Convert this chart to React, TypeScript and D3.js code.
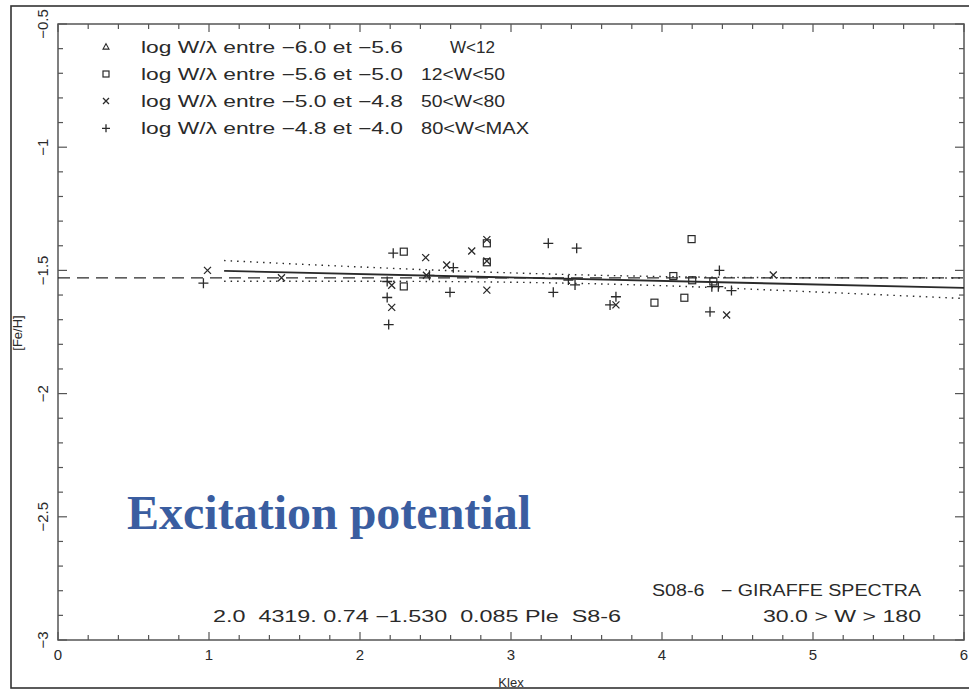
import React from "react";
import * as d3 from "d3";

// ---- data ----
const plusPts: [number, number][] = [
  [0.963, -1.552], [2.22, -1.43], [2.618, -1.489], [2.596, -1.589], [3.247, -1.39],
  [3.435, -1.41], [3.28, -1.589], [3.38, -1.539], [3.424, -1.559], [2.18, -1.545],
  [2.18, -1.61], [2.19, -1.72], [3.695, -1.607], [3.656, -1.64], [4.318, -1.668],
  [4.33, -1.566], [4.373, -1.566], [4.46, -1.582], [4.38, -1.5], [2.46, -1.52],
];
const crossPts: [number, number][] = [
  [0.99, -1.5], [1.48, -1.53], [2.435, -1.448], [2.74, -1.421], [2.84, -1.375],
  [2.84, -1.462], [2.574, -1.478], [2.84, -1.58], [2.21, -1.56], [2.21, -1.65],
  [3.695, -1.64], [4.428, -1.681], [4.737, -1.519], [2.44, -1.52],
];
const squarePts: [number, number][] = [
  [2.29, -1.424], [2.84, -1.39], [2.84, -1.467], [2.29, -1.565], [4.196, -1.373],
  [4.075, -1.523], [4.148, -1.611], [3.95, -1.631], [4.2, -1.54], [4.34, -1.545],
];
const meanFeH = -1.53;
const fitX = [1.1, 6.0];
const fitY = [-1.502, -1.571];
const bandX = [1.1, 2, 3, 4, 5, 6];
const upperBandY = [-1.46, -1.486, -1.51, -1.525, -1.53, -1.531];
const lowerBandY = [-1.544, -1.544, -1.548, -1.562, -1.587, -1.614];

const xTickLabels = ["0", "1", "2", "3", "4", "5", "6"];
const yTickValues = [-3, -2.5, -2, -1.5, -1, -0.5];
const yTickLabels = ["\u22123", "\u22122.5", "\u22122", "\u22121.5", "\u22121", "\u22120.5"];

const legendRanges = [
  "log W/\u03bb entre \u22126.0 et \u22125.6",
  "log W/\u03bb entre \u22125.6 et \u22125.0",
  "log W/\u03bb entre \u22125.0 et \u22124.8",
  "log W/\u03bb entre \u22124.8 et \u22124.0",
];
const legendW = ["W<12", "12<W<50", "50<W<80", "80<W<MAX"];
const legendSymbols = ["tri", "sq", "x", "plus"];

const W = 969;
const H = 690;
const INK = "#2a2a2a";

function Marker({ kind, cx, cy, s }: { kind: string; cx: number; cy: number; s: number }) {
  const h = s / 2;
  if (kind === "plus")
    return <path d={`M${cx - h},${cy}H${cx + h}M${cx},${cy - h}V${cy + h}`} stroke={INK} strokeWidth={1.3} fill="none" />;
  if (kind === "x")
    return <path d={`M${cx - h},${cy - h}L${cx + h},${cy + h}M${cx - h},${cy + h}L${cx + h},${cy - h}`} stroke={INK} strokeWidth={1.3} fill="none" />;
  if (kind === "sq")
    return <rect x={cx - h} y={cy - h} width={s} height={s} stroke={INK} strokeWidth={1.2} fill="none" />;
  return <path d={`M${cx},${cy - h}L${cx + h},${cy + h * 0.8}L${cx - h},${cy + h * 0.8}Z`} stroke={INK} strokeWidth={1.1} fill="none" />;
}

export default function App() {
  const x = d3.scaleLinear().domain([0, 6]).range([58, 964]);
  const y = d3.scaleLinear().domain([-3, -0.5]).range([640, 24]);
  const [x0, x1] = x.range();
  const [yb, yt] = y.range();

  const xMinor = d3.range(0, 6.0001, 0.2);
  const yMinor = d3.range(-3, -0.4999, 0.1);
  const isMajorX = (v: number) => Math.abs(v - Math.round(v)) < 1e-6;
  const isMajorY = (v: number) => Math.abs(v * 2 - Math.round(v * 2)) < 1e-6;

  const line = d3.line<[number, number]>().x((d) => x(d[0])).y((d) => y(d[1]));
  const curve = d3.line<[number, number]>().x((d) => x(d[0])).y((d) => y(d[1])).curve(d3.curveMonotoneX);
  const upper = bandX.map((v, i) => [v, upperBandY[i]] as [number, number]);
  const lower = bandX.map((v, i) => [v, lowerBandY[i]] as [number, number]);
  const fit = fitX.map((v, i) => [v, fitY[i]] as [number, number]);

  const legendRowY = [46.7, 74, 101, 128.3];
  const legendWX = [450, 421, 421, 421];
  const legendWLen = [45, 84, 84, 108];
  const font = "'Liberation Sans', Arial, sans-serif";

  return (
    <svg width={W} height={H} style={{ position: "fixed", left: 0, top: 0, background: "#fff" }} fontFamily={font}>
      <rect x={0} y={0} width={W} height={H} fill="#fff" />
      {/* outer frame */}
      <rect x={11} y={6} width={1000} height={682} fill="none" stroke="#333" strokeWidth={1.6} />

      {/* plot box */}
      <rect x={x0} y={yt} width={x1 - x0} height={yb - yt} fill="none" stroke="#555" strokeWidth={1.5} />

      {/* x ticks bottom & top */}
      {xMinor.map((v, i) => {
        const len = isMajorX(v) ? 8 : 5;
        return (
          <g key={"xt" + i} stroke="#555" strokeWidth={1.2}>
            <line x1={x(v)} x2={x(v)} y1={yb} y2={yb - len} />
            <line x1={x(v)} x2={x(v)} y1={yt} y2={yt + len} />
          </g>
        );
      })}
      {/* y ticks left & right */}
      {yMinor.map((v, i) => {
        const len = isMajorY(v) ? 9 : 5;
        return (
          <g key={"yt" + i} stroke="#555" strokeWidth={1.2}>
            <line x1={x0} x2={x0 + len} y1={y(v)} y2={y(v)} />
            <line x1={x1} x2={x1 - len} y1={y(v)} y2={y(v)} />
          </g>
        );
      })}

      {/* x tick labels */}
      {xTickLabels.map((t, i) => (
        <text key={"xl" + i} x={x(i)} y={660} textAnchor="middle" fontSize={15} fill={INK}>
          {t}
        </text>
      ))}
      {/* y tick labels, rotated */}
      {yTickValues.map((v, i) => (
        <text key={"yl" + i} transform={`translate(48,${y(v)}) rotate(-90)`} textAnchor="middle" fontSize={15} fill={INK}>
          {yTickLabels[i]}
        </text>
      ))}
      {/* axis titles */}
      <text transform={`translate(22,${333}) rotate(-90)`} textAnchor="middle" fontSize={13} fill={INK}>
        [Fe/H]
      </text>
      <text x={x(3)} y={687} textAnchor="middle" fontSize={13} fill={INK}>
        Klex
      </text>

      {/* mean line */}
      <line x1={x(0)} x2={x(6)} y1={y(meanFeH)} y2={y(meanFeH)} stroke={INK} strokeWidth={1.3} strokeDasharray="12,7" />
      {/* confidence band */}
      <path d={curve(upper) || ""} fill="none" stroke={INK} strokeWidth={1.4} strokeDasharray="1.5,5" />
      <path d={curve(lower) || ""} fill="none" stroke={INK} strokeWidth={1.4} strokeDasharray="1.5,5" />
      {/* regression line */}
      <path d={line(fit) || ""} fill="none" stroke={INK} strokeWidth={1.9} />

      {/* points */}
      {squarePts.map((d, i) => (
        <Marker key={"s" + i} kind="sq" cx={x(d[0])} cy={y(d[1])} s={7} />
      ))}
      {crossPts.map((d, i) => (
        <Marker key={"c" + i} kind="x" cx={x(d[0])} cy={y(d[1])} s={7} />
      ))}
      {plusPts.map((d, i) => (
        <Marker key={"p" + i} kind="plus" cx={x(d[0])} cy={y(d[1])} s={10} />
      ))}

      {/* legend */}
      {legendRanges.map((t, i) => (
        <g key={"lg" + i}>
          <Marker kind={legendSymbols[i]} cx={106} cy={legendRowY[i]} s={legendSymbols[i] === "plus" ? 8 : 6} />
          <text x={141} y={legendRowY[i] + 6} fontSize={16} fill={INK} textLength={262} lengthAdjust="spacingAndGlyphs">
            {t}
          </text>
          <text x={legendWX[i]} y={legendRowY[i] + 6} fontSize={16} fill={INK} textLength={legendWLen[i]} lengthAdjust="spacingAndGlyphs">
            {legendW[i]}
          </text>
        </g>
      ))}

      {/* annotations */}
      <text x={921} y={596} textAnchor="end" fontSize={16} fill={INK} textLength={269} lengthAdjust="spacingAndGlyphs" xmlSpace="preserve">
        {"S08-6   \u2212 GIRAFFE SPECTRA"}
      </text>
      <text x={213} y={622} fontSize={16} fill={INK} textLength={408} lengthAdjust="spacingAndGlyphs" xmlSpace="preserve">
        {"2.0  4319. 0.74 \u22121.530  0.085 Ple  S8-6"}
      </text>
      <text x={921} y={622} textAnchor="end" fontSize={16} fill={INK} textLength={158} lengthAdjust="spacingAndGlyphs">
        {"30.0 > W > 180"}
      </text>

      <text x={127} y={529} fontFamily="'Liberation Serif', 'Times New Roman', serif" fontWeight="bold" fontSize={48} fill="#3a5da0">
        Excitation potential
      </text>
    </svg>
  );
}
